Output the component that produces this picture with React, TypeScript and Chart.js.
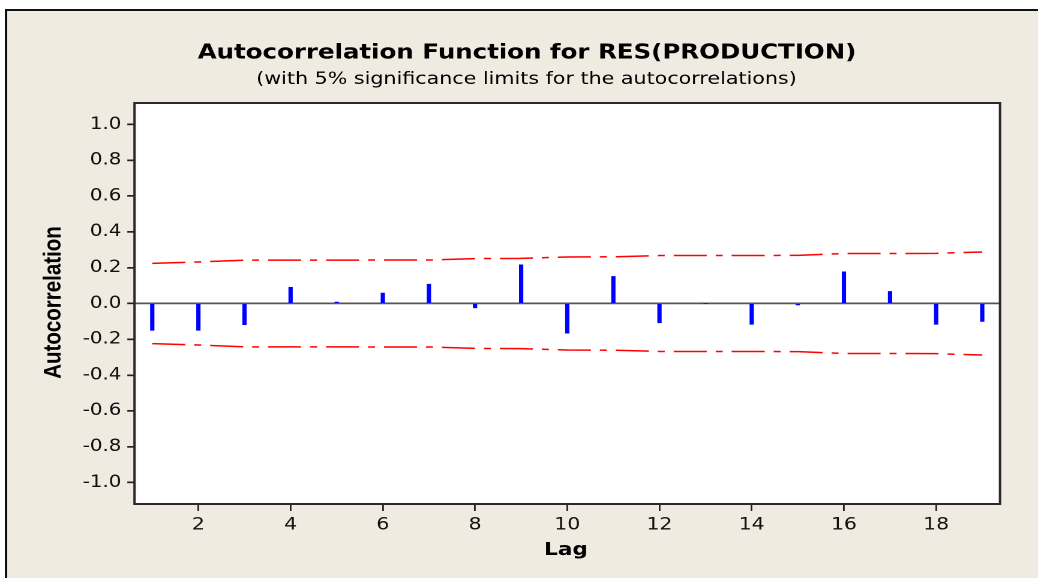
import React, { useEffect, useRef } from "react";
import { Chart, registerables } from "chart.js";

Chart.register(...registerables);

// ---- data ----
const lags = [1, 2, 3, 4, 5, 6, 7, 8, 9, 10, 11, 12, 13, 14, 15, 16, 17, 18, 19];
const acf = [
  -0.15, -0.15, -0.118, 0.09, 0.008, 0.058, 0.108, -0.024, 0.216, -0.166,
  0.151, -0.108, 0.0, -0.116, -0.008, 0.177, 0.067, -0.116, -0.1,
];
const limit = [
  0.224, 0.232, 0.242, 0.242, 0.242, 0.243, 0.243, 0.251, 0.252, 0.26,
  0.261, 0.268, 0.268, 0.268, 0.269, 0.279, 0.279, 0.28, 0.288,
];
const xTickValues = [2, 4, 6, 8, 10, 12, 14, 16, 18];
const yTickValues = [-1.0, -0.8, -0.6, -0.4, -0.2, 0.0, 0.2, 0.4, 0.6, 0.8, 1.0];
const titleText = "Autocorrelation Function for RES(PRODUCTION)";
const subtitleText = "(with 5% significance limits for the autocorrelations)";
const xTitleText = "Lag";
const yTitleText = "Autocorrelation";

// ---- layout (canvas drawn narrower, then stretched horizontally) ----
const W = 1038;
const H = 578;
const SX = 1.2;
const CW = Math.round(W / SX);
const PLOT_LEFT = 134.5 / SX;
const PLOT_RIGHT = 1000 / SX;
const PLOT_TOP = 103;
const PLOT_BOTTOM = 504;

const BEIGE = "#efebe1";

const framePlugin = {
  id: "minitabFrame",
  beforeDraw(chart: any) {
    const ctx = chart.ctx;
    const a = chart.chartArea;
    ctx.save();
    ctx.fillStyle = "#ffffff";
    ctx.fillRect(0, 0, chart.width, chart.height);
    ctx.fillStyle = BEIGE;
    ctx.fillRect(5, 10, chart.width, chart.height);
    ctx.strokeStyle = "#111111";
    ctx.lineWidth = 2;
    ctx.beginPath();
    ctx.moveTo(5, chart.height + 2);
    ctx.lineTo(5, 10);
    ctx.lineTo(chart.width + 2, 10);
    ctx.stroke();
    ctx.fillStyle = "#ffffff";
    ctx.fillRect(a.left, a.top, a.right - a.left, a.bottom - a.top);
    ctx.restore();
  },
  afterDraw(chart: any) {
    const ctx = chart.ctx;
    const a = chart.chartArea;
    ctx.save();
    ctx.strokeStyle = "#2a2a2a";
    ctx.lineWidth = 2;
    ctx.strokeRect(a.left, a.top, a.right - a.left, a.bottom - a.top);

    ctx.fillStyle = "#000000";
    ctx.textAlign = "center";
    ctx.textBaseline = "alphabetic";
    ctx.font = "bold 20.4px 'DejaVu Sans'";
    ctx.fillText(titleText, 527 / SX, 58.5);
    ctx.font = "17.2px 'DejaVu Sans'";
    ctx.fillText(subtitleText, 526.5 / SX, 84);

    ctx.font = "bold 18px 'DejaVu Sans'";
    ctx.fillText(xTitleText, 566 / SX, 555);

    ctx.save();
    ctx.translate(60.5 / SX, 302.5);
    ctx.rotate(-Math.PI / 2);
    ctx.font = "bold 20.5px 'Liberation Sans'";
    ctx.fillText(yTitleText, 0, 0);
    ctx.restore();

    ctx.restore();
  },
};

export default function App() {
  const canvasRef = useRef<HTMLCanvasElement | null>(null);

  useEffect(() => {
    document.body.style.margin = "0";
    const canvas = canvasRef.current;
    if (!canvas) return;

    const barData = lags.map((x, i) => ({ x, y: acf[i] }));
    const upperData = lags.map((x, i) => ({ x, y: limit[i] }));
    const lowerData = lags.map((x, i) => ({ x, y: -limit[i] }));

    const chart = new Chart(canvas, {
      type: "bar",
      data: {
        datasets: [
          {
            type: "line",
            label: "Upper limit",
            data: upperData,
            borderColor: "#ff0000",
            borderWidth: 1.5,
            borderDash: [27.5, 7.5, 5.8, 7.5],
            pointRadius: 0,
            fill: false,
            tension: 0,
          } as any,
          {
            type: "line",
            label: "Lower limit",
            data: lowerData,
            borderColor: "#ff0000",
            borderWidth: 1.5,
            borderDash: [27.5, 7.5, 5.8, 7.5],
            pointRadius: 0,
            fill: false,
            tension: 0,
          } as any,
          {
            type: "bar",
            label: "ACF",
            data: barData,
            backgroundColor: "#0000ff",
            borderWidth: 0,
            barThickness: 2.9,
          } as any,
        ],
      },
      options: {
        responsive: false,
        animation: false,
        devicePixelRatio: 2,
        layout: {
          padding: { left: 0, top: PLOT_TOP, right: CW - PLOT_RIGHT, bottom: 0 },
        },
        plugins: {
          legend: { display: false },
          tooltip: { enabled: false },
          title: { display: false },
        },
        scales: {
          x: {
            type: "linear",
            min: 0.615,
            max: 19.385,
            offset: false,
            grid: {
              display: true,
              drawOnChartArea: false,
              drawTicks: true,
              tickLength: 7,
              tickColor: "#222222",
              lineWidth: 1.4,
              offset: false,
            },
            border: { display: false },
            ticks: {
              color: "#111111",
              padding: 4,
              maxRotation: 0,
              autoSkip: false,
              font: { family: "'DejaVu Sans'", size: 17 },
              callback: (v: any) => String(v),
            },
            afterBuildTicks: (scale: any) => {
              scale.ticks = xTickValues.map((v) => ({ value: v }));
            },
            afterFit: (scale: any) => {
              scale.height = H - PLOT_BOTTOM;
            },
          },
          y: {
            type: "linear",
            min: -1.12,
            max: 1.12,
            grid: {
              display: true,
              drawOnChartArea: true,
              drawTicks: true,
              tickLength: 6,
              color: (c: any) => (c.tick && c.tick.value === 0 ? "#555555" : "rgba(0,0,0,0)"),
              tickColor: "#222222",
              lineWidth: 1.7,
            },
            border: { display: false },
            ticks: {
              color: "#111111",
              padding: 5,
              autoSkip: false,
              font: { family: "'DejaVu Sans'", size: 16.5 },
              callback: (v: any) => Number(v).toFixed(1),
            },
            afterBuildTicks: (scale: any) => {
              scale.ticks = yTickValues.map((v) => ({ value: v }));
            },
            afterFit: (scale: any) => {
              scale.width = PLOT_LEFT;
            },
          },
        },
      },
      plugins: [framePlugin],
    });

    return () => {
      chart.destroy();
    };
  }, []);

  return (
    <div style={{ width: W, height: H, overflow: "hidden" }}>
      <canvas
        ref={canvasRef}
        width={CW}
        height={H}
        style={{ display: "block", width: `${W}px`, height: `${H}px` }}
      />
    </div>
  );
}
